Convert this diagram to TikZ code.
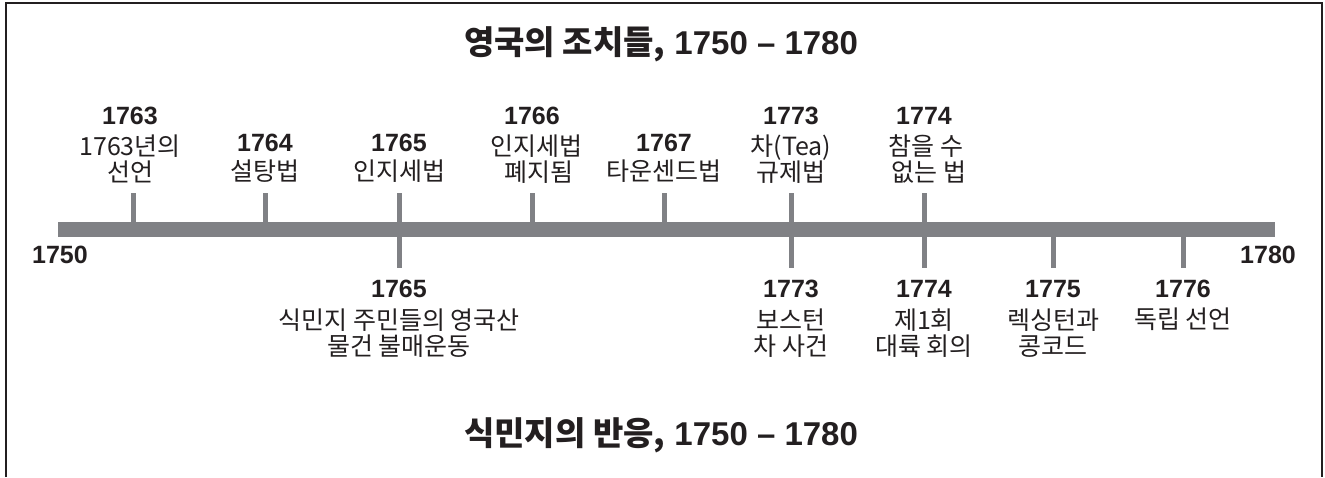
\documentclass[tikz,border=0pt]{standalone}
\usepackage{fontspec}
\setmainfont{Liberation Sans}
\newfontfamily\kr{Noto Sans CJK KR}
\usepackage{xcolor}
\definecolor{bar-gray}{RGB}{128,129,133}
\definecolor{ink}{RGB}{35,31,32}
\usepackage{tikz}
\usetikzlibrary{positioning}

\begin{document}
\begin{tikzpicture}[
    x=1pt, y=-1pt,
    title/.style={
        text=ink,
        font=\bfseries\fontsize{33}{35}\selectfont,
        inner sep=0pt
    },
    year/.style={
        text=ink,
        font=\bfseries\fontsize{25}{27}\selectfont,
        inner sep=0pt
    },
    event/.style={
        text=ink,
        font=\kr\fontsize{25}{26}\selectfont,
        align=center,
        inner sep=0pt
    },
    tick/.style={bar-gray, line width=5pt}
]
\useasboundingbox (0,0) rectangle (1325,477);

% Frame, open at the bottom
\draw[ink, line width=2pt] (6,477) -- (6,3) -- (1322,3) -- (1322,477);

% Titles
\node[title] (britain) at (661,44) {{\kr 영국의 조치들,}\ 1750 -- 1780};
\node[title] (colonies) at (661,435) {{\kr 식민지의 반응,} 1750 -- 1780};

% Time line
\fill[bar-gray] (58,222) rectangle (1275,237);
\coordinate (bar left) at (58,229.5);
\coordinate (bar right) at (1275,229.5);
\node[year] (start) at (60,255) {1750};
\node[year] (end) at (1268,255) {1780};

% British measures (above)
\coordinate (t1763) at (133,229.5);
\coordinate (t1764) at (265,229.5);
\coordinate (t1765) at (399,229.5);
\coordinate (t1766) at (532,229.5);
\coordinate (t1767) at (664,229.5);
\coordinate (t1773) at (791,229.5);
\coordinate (t1774) at (924,229.5);
\coordinate (t1775) at (1053,229.5);
\coordinate (t1776) at (1183,229.5);

\node[year] (y1763) at (130,116) {1763};
\node[event] (e1763) at (130,159) {1763년의\\선언};
\node[year] (y1764) at (265,143) {1764};
\node[event] (e1764) at (265,171) {설탕법};
\node[year] (y1765) at (399,143) {1765};
\node[event] (e1765) at (399,171) {인지세법};
\node[year] (y1766) at (532,116) {1766};
\node[event] (e1766) at (536,159) {인지세법\\ \ 폐지됨};
\node[year] (y1767) at (664,143) {1767};
\node[event] (e1767) at (664,171) {타운센드법};
\node[year] (y1773) at (791,116) {1773};
\node[event] (e1773) at (791,159) {차(Tea)\\규제법};
\node[year] (y1774) at (924,116) {1774};
\node[event] (e1774) at (926,159) {참을 수\\ \ 없는 법};

\draw[tick] (t1763) ++(0,-7.5) -- ++(0,-29);
\draw[tick] (t1764) ++(0,-7.5) -- ++(0,-29);
\draw[tick] (t1765) ++(0,-7.5) -- ++(0,-29);
\draw[tick] (t1766) ++(0,-7.5) -- ++(0,-29);
\draw[tick] (t1767) ++(0,-7.5) -- ++(0,-29);
\draw[tick] (t1773) ++(0,-7.5) -- ++(0,-29);
\draw[tick] (t1774) ++(0,-7.5) -- ++(0,-29);

% Colonial responses (below)
\draw[tick] (t1765) ++(0,7.5) -- ++(0,31);
\draw[tick] (t1773) ++(0,7.5) -- ++(0,31);
\draw[tick] (t1774) ++(0,7.5) -- ++(0,31);
\draw[tick] (t1775) ++(0,7.5) -- ++(0,31);
\draw[tick] (t1776) ++(0,7.5) -- ++(0,31);

\node[year] (c1765) at (399,289) {1765};
\node[event] (r1765) at (399,333) {식민지 주민들의 영국산\\물건 불매운동};
\node[year] (c1773) at (791,289) {1773};
\node[event] (r1773) at (791,333) {보스턴\\차 사건};
\node[year] (c1774) at (924,289) {1774};
\node[event] (r1774) at (924,333) {제1회\\대륙 회의};
\node[year] (c1775) at (1053,289) {1775};
\node[event] (r1775) at (1053,333) {렉싱턴과\\콩코드};
\node[year] (c1776) at (1183,289) {1776};
\node[event] (r1776) at (1183,319) {독립 선언};

\end{tikzpicture}
\end{document}
